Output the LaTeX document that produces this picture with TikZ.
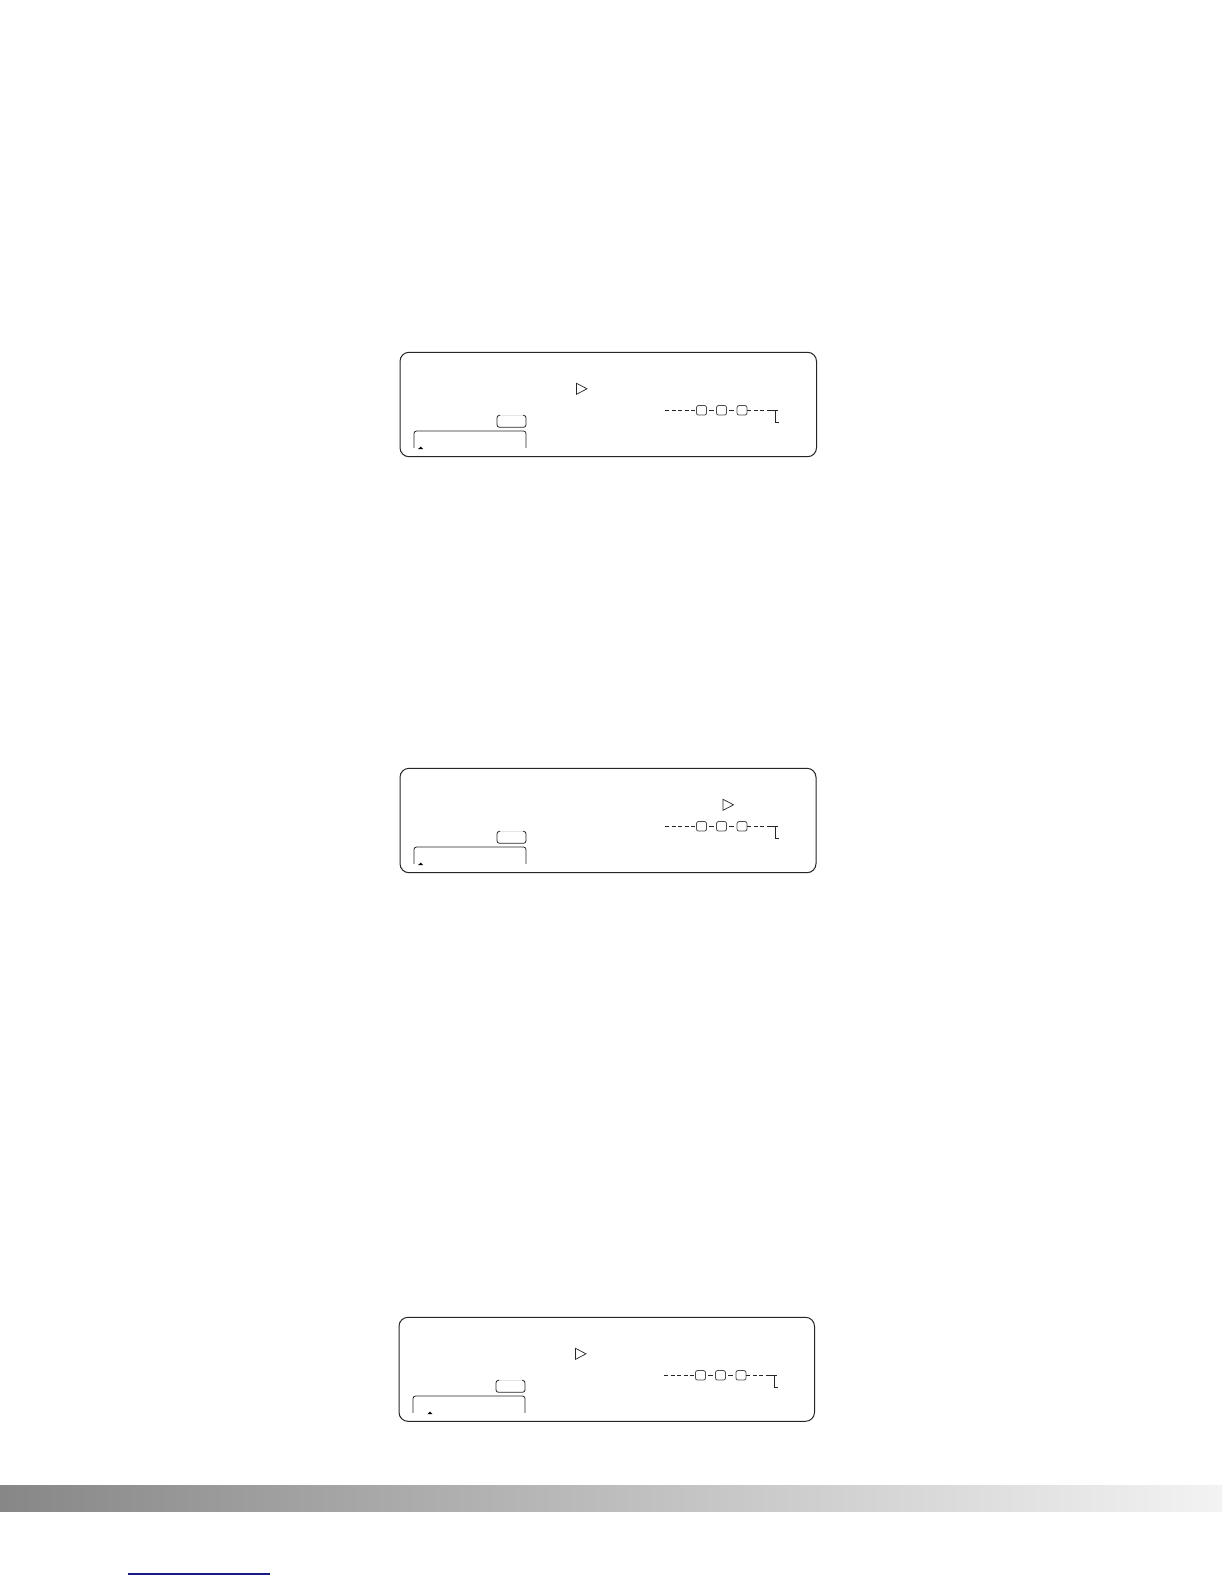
\documentclass[tikz,border=0pt]{standalone}
\begin{document}
\begin{tikzpicture}[x=1pt,y=-1pt,
  panelbox/.style={draw=black!85, line width=1pt, rounded corners=9pt},
  sq/.style={draw=black!70, rounded corners=2pt, minimum width=10pt, minimum height=9.5pt, inner sep=0pt, line width=0.8pt},
  dline/.style={draw=black!85, dash pattern=on 4pt off 2.5pt, line width=0.7pt},
  linkline/.style={draw=black!85, dash pattern=on 0pt off 2.5pt on 5pt off 20pt, line width=0.7pt},
  solidline/.style={draw=black!85, line width=0.8pt},
  arrowtri/.style={draw=black!85, line width=0.7pt, line join=miter},
  boxline/.style={draw=black!85, line width=0.8pt, rounded corners=2.5pt},
  tickfill/.style={fill=black}
]
\useasboundingbox (0,0) rectangle (1224,1584);
\fill[white] (0,0) rectangle (1224,1584);

\newcommand\panelgroup[7]{% #1 name, #2 x0, #3 y0, #4 width, #5 height, #6 arrow x, #7 tick x
\begin{scope}[shift={(#2,#3)}]
  \draw[panelbox] (0,0) rectangle (#4,#5);
  % arrow triangle
  \draw[arrowtri] (#6,31) -- (#6+10.5,36.5) -- (#6,42) -- cycle;
  % dashed chain with three squares
  \coordinate (#1-ds) at (265,58);
  \node[sq] (#1-s1) at (301.5,58) {};
  \node[sq] (#1-s2) at (321.5,58) {};
  \node[sq] (#1-s3) at (342,58) {};
  \coordinate (#1-de) at (375,58);
  \coordinate (#1-db) at (375,70);
  \draw[dline] (#1-ds) -- (#1-s1.west);
  \draw[linkline] (#1-s1.east) -- (#1-s2.west);
  \draw[linkline] (#1-s2.east) -- (#1-s3.west);
  \draw[dline] (#1-s3.east) -- (#1-de);
  \draw[solidline] ([xshift=-4pt]#1-de) -- ([xshift=3pt]#1-de);
  \draw[solidline] (#1-de) -- (#1-db) -- ([xshift=4pt]#1-db);
  % small open box
  \draw[black!10, line width=0.6pt] (100,63) -- (123,63);
  \draw[boxline] (100,63) -- (97,63) -- (97,75) -- (126,75) -- (126,63) -- (123,63);
  % label box
  \draw[boxline] (14,95.5) -- (14,78.7) -- (126,78.7) -- (126,95.5);
  \fill[tickfill] (#7-2.6,96.8) -- (#7+2.6,96.8) -- (#7,94.3) -- cycle;
\end{scope}}

\panelgroup{pa}{400}{352.3}{416.5}{104.4}{576.5-400}{420.7-400}
\panelgroup{pb}{400}{768.3}{416}{104.4}{723-400}{420.7-400}
\panelgroup{pc}{399}{1317.3}{415.5}{104}{575.5-399}{430-399}

% gradient bar
\shade[left color={rgb,255:red,135;green,135;blue,135}, right color={rgb,255:red,243;green,243;blue,243}]
  (0,1485) rectangle (1222,1511.5);

% blue underline
\draw[line width=2pt, color={rgb,255:red,25;green,25;blue,140}] (128,1574) -- (270,1574);
\end{tikzpicture}
\end{document}
